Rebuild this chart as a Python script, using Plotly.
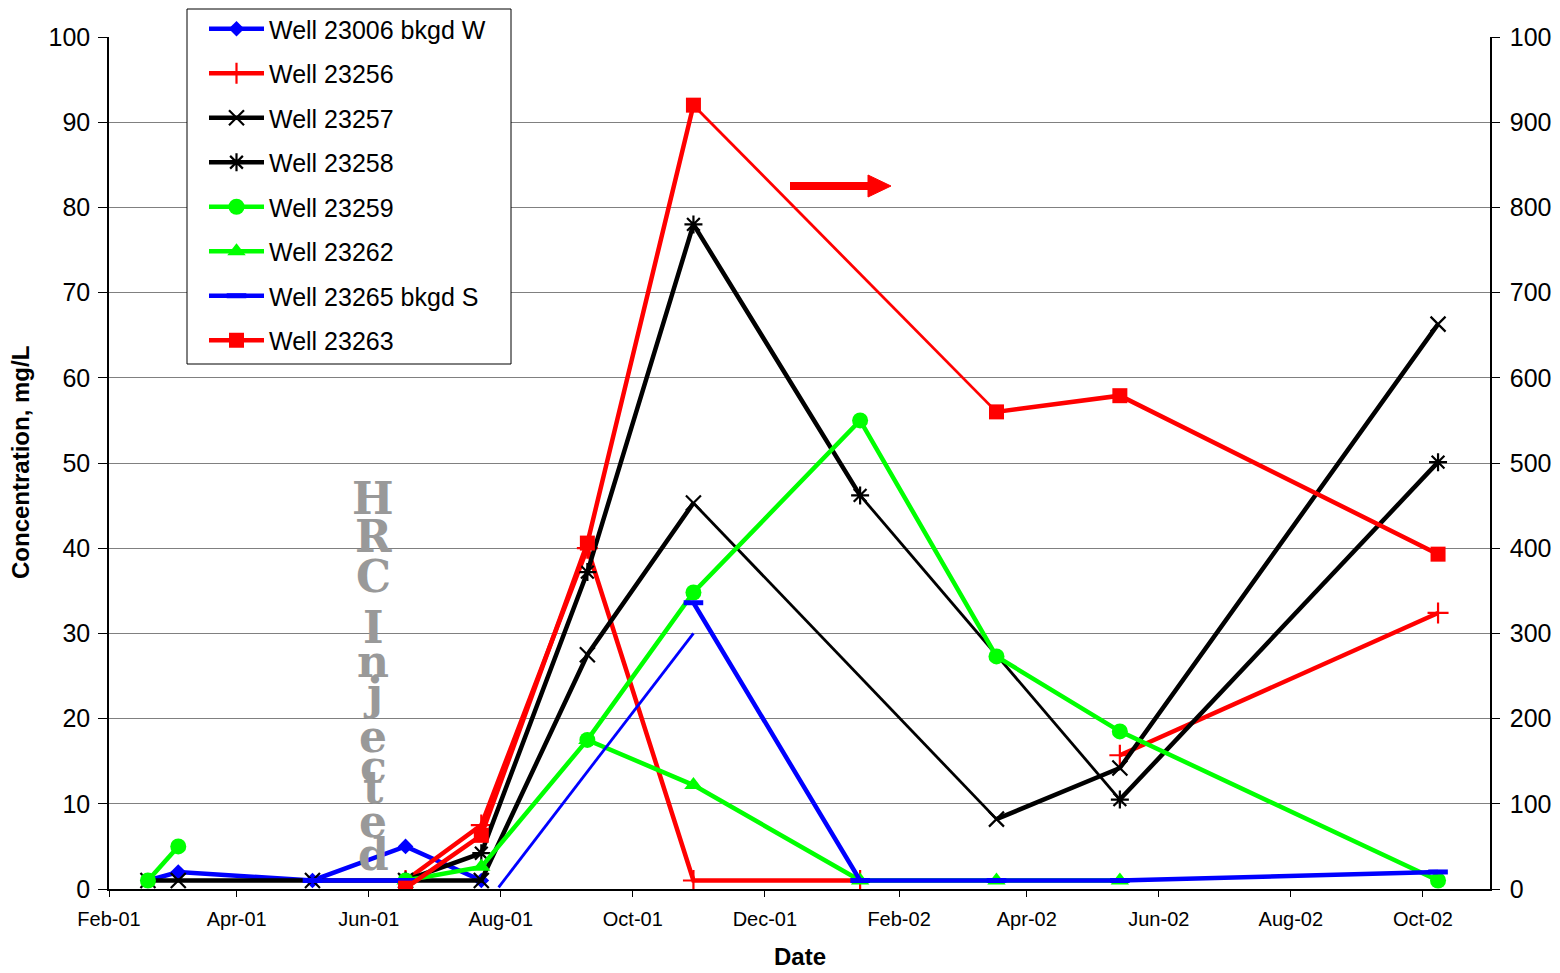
import plotly.graph_objects as go

# ---------------- data ----------------
well_23006_dates = ["2001-02-19", "2001-03-05", "2001-05-06", "2001-06-18", "2001-07-23"]
well_23006_vals = [1, 2, 1, 5, 1]

well_23256_dates = ["2001-06-18", "2001-07-23", "2001-09-10", "2001-10-29", "2002-01-14",
                    "2002-03-18", "2002-05-14", "2002-10-08"]
well_23256_vals = [1, 7.5, 40, 1, 1, None, 15.7, 32.4]

well_23257_dates = ["2001-02-19", "2001-03-05", "2001-05-06", "2001-06-18", "2001-07-23",
                    "2001-09-10", "2001-10-29", "2002-03-18", "2002-05-14", "2002-10-08"]
well_23257_vals = [1, 1, 1, 1, 1, 27.5, 45.3, 8.2, 14.2, 66.3]

well_23258_dates = ["2001-06-18", "2001-07-23", "2001-09-10", "2001-10-29", "2002-01-14",
                    "2002-05-14", "2002-10-08"]
well_23258_vals = [1, 4.2, 37.2, 78, 46.2, 10.5, 50.1]

well_23259_dates = ["2001-02-19", "2001-03-05", "2001-05-06", "2001-06-18", "2001-07-23",
                    "2001-09-10", "2001-10-29", "2002-01-14", "2002-03-18", "2002-05-14",
                    "2002-10-08"]
well_23259_vals = [1, 5, None, 1, None, 17.5, 34.8, 55, 27.3, 18.5, 1]

well_23262_dates = ["2001-06-18", "2001-07-23", "2001-09-10", "2001-10-29", "2002-01-14",
                    "2002-03-18", "2002-05-14"]
well_23262_vals = [1, 2.6, 17.5, 12.2, 1, 1, 1]

well_23265_dates = ["2001-05-06", "2001-06-18", "2001-07-23", "2001-10-29", "2002-01-14",
                    "2002-03-18", "2002-05-14", "2002-10-08"]
well_23265_vals = [1, 1, None, 33.6, 1, 1, 1, 2]
well_23265_extra_dates = ["2001-07-31", "2001-10-29"]
well_23265_extra_vals = [0.2, 30]

# Well 23263 plotted against the secondary (right) axis
well_23263_dates = ["2001-06-18", "2001-07-23", "2001-09-10", "2001-10-29", "2002-03-18",
                    "2002-05-14", "2002-10-08"]
well_23263_vals = [1, 63, 406, 920, 560, 579, 393]

x_tick_vals = ["2001-02-01", "2001-04-01", "2001-06-01", "2001-08-01", "2001-10-01",
               "2001-12-01", "2002-02-01", "2002-04-01", "2002-06-01", "2002-08-01",
               "2002-10-01"]
x_tick_text = ["Feb-01", "Apr-01", "Jun-01", "Aug-01", "Oct-01", "Dec-01", "Feb-02",
               "Apr-02", "Jun-02", "Aug-02", "Oct-02"]

hrc_letters = ["H", "R", "C", "I", "n", "j", "e", "c", "t", "e", "d"]

# ---------------- helpers ----------------
FONT = "Liberation Sans, Arial, sans-serif"
THICK = 4.5
THIN = 2.8


def split(dates, vals, thin_segments):
    tx, ty, nx, ny = [], [], [], []
    for i in range(len(dates)):
        tx.append(dates[i])
        ty.append(vals[i])
        if i in thin_segments and i + 1 < len(dates):
            tx.append(None)
            ty.append(None)
            nx += [dates[i], dates[i + 1], None]
            ny += [vals[i], vals[i + 1], None]
    return tx, ty, nx, ny


fig = go.Figure()


def add_well(name, dates, vals, color, marker, rank, thin_segments=(), yaxis="y"):
    tx, ty, nx, ny = split(dates, vals, set(thin_segments))
    if nx:
        fig.add_trace(go.Scatter(
            x=nx, y=ny, mode="lines", line=dict(color=color, width=THIN),
            showlegend=False, legendgroup=name, hoverinfo="skip", yaxis=yaxis,
            connectgaps=False))
    fig.add_trace(go.Scatter(
        x=tx, y=ty, mode="lines+markers", name=name, legendgroup=name,
        legendrank=rank, line=dict(color=color, width=THICK), marker=marker,
        connectgaps=False, yaxis=yaxis))


add_well("Well 23006 bkgd W", well_23006_dates, well_23006_vals, "#0000FF",
         dict(symbol="diamond", size=12, color="#0000FF"), 1)
add_well("Well 23256", well_23256_dates, well_23256_vals, "#FF0000",
         dict(symbol="cross-thin-open", size=15, color="#FF0000", line=dict(width=2.2, color="#FF0000")), 2)
add_well("Well 23257", well_23257_dates, well_23257_vals, "#000000",
         dict(symbol="x-thin-open", size=15, color="#000000", line=dict(width=2.2, color="#000000")), 3,
         thin_segments=[6])
add_well("Well 23258", well_23258_dates, well_23258_vals, "#000000",
         dict(symbol="asterisk-open", size=15, color="#000000", line=dict(width=2.2, color="#000000")), 4,
         thin_segments=[4])
add_well("Well 23262", well_23262_dates, well_23262_vals, "#00FF00",
         dict(symbol="triangle-up", size=16, color="#00FF00"), 6)
add_well("Well 23259", well_23259_dates, well_23259_vals, "#00FF00",
         dict(symbol="circle", size=16, color="#00FF00"), 5)
add_well("Well 23265 bkgd S", well_23265_dates, well_23265_vals, "#0000FF",
         dict(symbol="line-ew-open", size=14, color="#0000FF", line=dict(width=5, color="#0000FF")), 7)
fig.add_trace(go.Scatter(
    x=well_23265_extra_dates, y=well_23265_extra_vals, mode="lines",
    line=dict(color="#0000FF", width=THIN), showlegend=False,
    legendgroup="Well 23265 bkgd S", hoverinfo="skip"))
add_well("Well 23263", well_23263_dates, well_23263_vals, "#FF0000",
         dict(symbol="square", size=15, color="#FF0000"), 8,
         thin_segments=[3], yaxis="y2")

# ---------------- layout ----------------
OFF = 8  # page body margin
W, H = 1560 - OFF, 973 - OFF
L, T = 109 - OFF, 37 - OFF
R = 1560 - 1490
B = 84
pw, ph = W - L - R, H - T - B


def px(x):
    return (x - OFF - L) / pw


def py(y):
    return (H - B - (y - OFF)) / ph


annotations = []
hrc_centers = [499, 536, 576, 627, 661, 693, 736, 766, 787, 821, 854]
for letter, cy in zip(hrc_letters, hrc_centers):
    annotations.append(dict(
        text=letter, x=px(373), y=py(cy), xref="paper", yref="paper",
        xanchor="center", yanchor="middle", showarrow=False,
        font=dict(family="DejaVu Serif, Liberation Serif, serif", size=44,
                  color="#999999", weight="bold")))

annotations.append(dict(text="<b>Concentration, mg/L</b>", x=px(20), y=py(463),
                        xref="paper", yref="paper", textangle=-90, showarrow=False,
                        xanchor="center", yanchor="middle",
                        font=dict(family=FONT, size=24, color="#000000")))
annotations.append(dict(text="<b>Date</b>", x=px(800), y=py(956),
                        xref="paper", yref="paper", showarrow=False,
                        xanchor="center", yanchor="middle",
                        font=dict(family=FONT, size=24, color="#000000")))

shapes = [
    # legend frame (legend entries are drawn on top of it)
    dict(type="rect", xref="paper", yref="paper", layer="above",
         x0=px(187), x1=px(511), y0=py(364), y1=py(9),
         fillcolor="white", line=dict(color="#000000", width=1)),
    dict(type="line", xref="paper", yref="paper", x0=px(790), x1=px(872), y0=py(186), y1=py(186),
         line=dict(color="#FF0000", width=8)),
    dict(type="path", xref="paper", yref="paper",
         path=f"M {px(868)} {py(175)} L {px(891)} {py(186)} L {px(868)} {py(197)} Z",
         fillcolor="#FF0000", line=dict(color="#FF0000", width=1)),
]

fig.update_layout(
    width=W, height=H,
    margin=dict(l=L, r=R, t=T, b=B, autoexpand=False),
    paper_bgcolor="white", plot_bgcolor="white",
    font=dict(family=FONT, color="#000000"),
    showlegend=True,
    legend=dict(x=px(204), y=py(6), xanchor="left", yanchor="top",
                bgcolor="rgba(0,0,0,0)", borderwidth=0,
                font=dict(family=FONT, size=25, color="#000000"),
                traceorder="grouped", tracegroupgap=9, itemwidth=55),
    xaxis=dict(type="date", range=["2001-02-01", "2002-11-01"],
               tickvals=x_tick_vals, ticktext=x_tick_text,
               ticks="outside", ticklen=6, tickcolor="#000000",
               tickfont=dict(family=FONT, size=20, color="#000000"),
               showline=True, linecolor="#000000", linewidth=1.5,
               showgrid=False, zeroline=False, ticklabelstandoff=5),
    yaxis=dict(range=[0, 100], dtick=10, tick0=0,
               ticks="outside", ticklen=9, tickcolor="#000000",
               tickfont=dict(family=FONT, size=25, color="#000000"),
               showline=True, linecolor="#000000", linewidth=1.5,
               showgrid=True, gridcolor="#808080", gridwidth=1,
               zeroline=False, ticklabelstandoff=3),
    yaxis2=dict(range=[0, 1000], dtick=100, tick0=0, overlaying="y", side="right",
                ticks="outside", ticklen=8, tickcolor="#000000",
                tickfont=dict(family=FONT, size=25, color="#000000"),
                showline=True, linecolor="#000000", linewidth=1.5,
                showgrid=False, zeroline=False, ticklabelstandoff=5,
                ticklabeloverflow="allow"),
    annotations=annotations,
    shapes=shapes,
)

fig.write_html("out.html")
